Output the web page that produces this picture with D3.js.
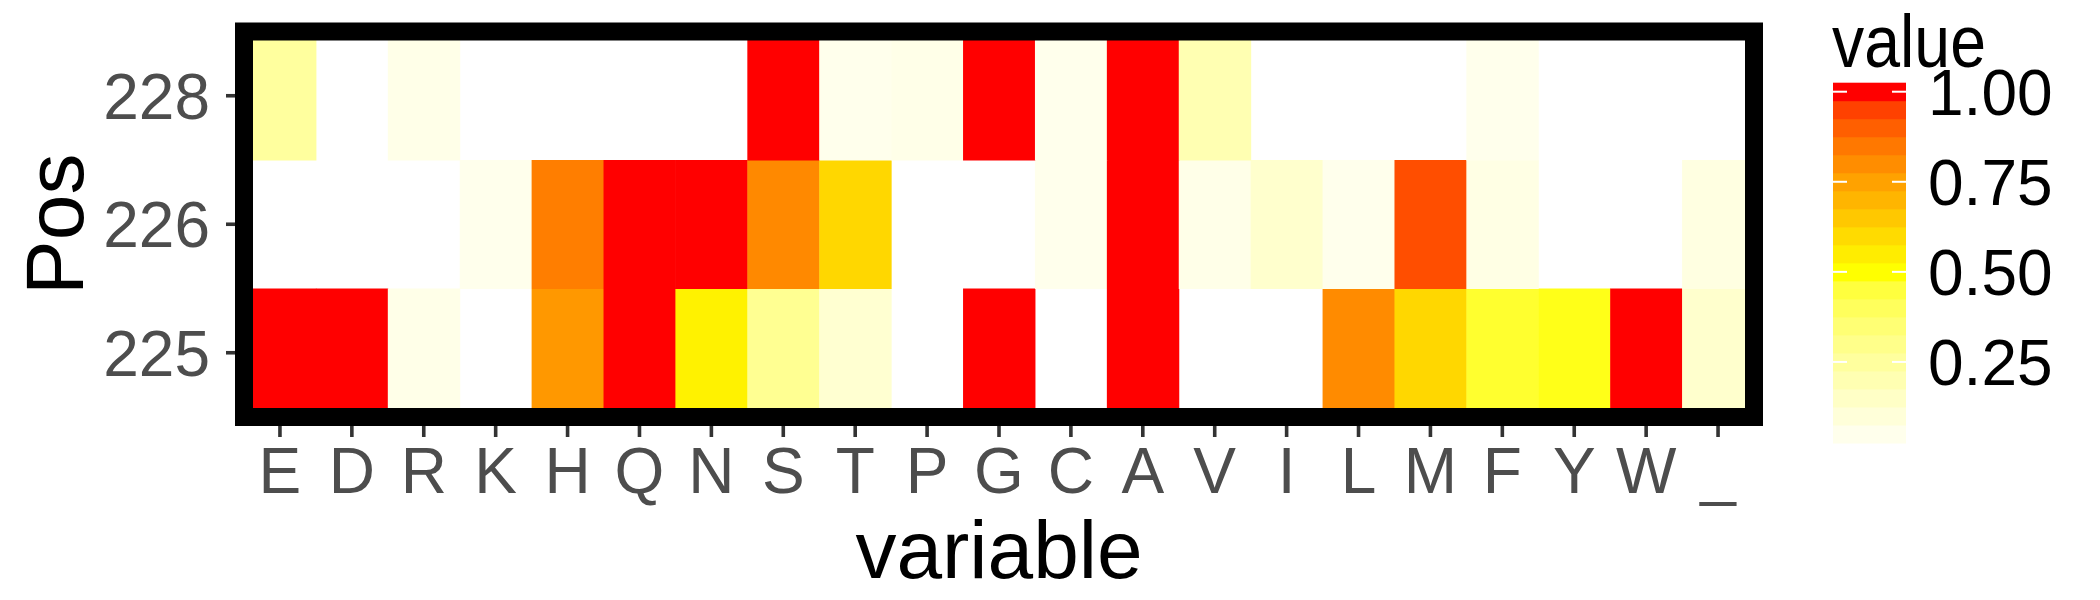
<!DOCTYPE html>
<html>
<head>
<meta charset="utf-8">
<script src="https://cdn.jsdelivr.net/npm/d3@7"></script>
<style>
  html, body { margin: 0; padding: 0; background: #ffffff; }
  svg { display: block; font-family: "Liberation Sans", Arial, Helvetica, sans-serif; }
</style>
</head>
<body>
<svg id="chart" width="2100" height="600"></svg>
<script>
// ---- data ----
const variables = ["E","D","R","K","H","Q","N","S","T","P","G","C","A","V","I","L","M","F","Y","W","_"];
const positions = ["225","226","228"];
const pos228 = [0.25, null, 0.06, null, null, null, null, 1.00, 0.05, 0.06, 1.00, 0.05, 1.00, 0.20, null, null, null, 0.05, null, null, null];
const pos226 = [null, null, null, 0.05, 0.835, 1.00, 1.00, 0.81, 0.61, null, null, 0.05, 1.00, 0.06, 0.13, 0.05, 0.93, 0.07, null, null, 0.08];
const pos225 = [1.00, 1.00, 0.06, null, 0.775, 1.00, 0.535, 0.28, 0.12, null, 1.00, null, 1.00, null, null, 0.805, 0.61, 0.47, 0.49, 1.00, 0.13];
const legendTicks = [0.25, 0.50, 0.75, 1.00];
const legendTickLabels = ["0.25", "0.50", "0.75", "1.00"];

const rows = { "225": pos225, "226": pos226, "228": pos228 };
const cells = [];
positions.forEach(p => rows[p].forEach((v, i) => { if (v !== null) cells.push({ variable: variables[i], pos: p, value: v }); }));

// ---- layout ----
const svg = d3.select("#chart");
const panel = { left: 244, right: 1754, top: 31.5, bottom: 417 };

const x = d3.scaleBand().domain(variables).range([panel.left, panel.right]).padding(0);
const y = d3.scaleBand().domain(positions).range([panel.bottom, panel.top]).padding(0);

const color = d3.scaleLinear().domain([0, 0.5, 1]).range(["#ffffff", "#ffff00", "#ff0000"]).interpolate(d3.interpolateLab);

// tiles
svg.append("g").selectAll("rect").data(cells).join("rect")
  .attr("x", d => x(d.variable))
  .attr("y", d => y(d.pos))
  .attr("width", x.bandwidth() + 0.5)
  .attr("height", y.bandwidth() + 0.5)
  .attr("fill", d => color(d.value));

// axis ticks
const tickColor = "#333333";
svg.append("g").selectAll("line").data(positions).join("line")
  .attr("x1", panel.left - 18).attr("x2", panel.left)
  .attr("y1", d => y(d) + y.bandwidth() / 2).attr("y2", d => y(d) + y.bandwidth() / 2)
  .attr("stroke", tickColor).attr("stroke-width", 3.6);
svg.append("g").selectAll("line").data(variables).join("line")
  .attr("y1", panel.bottom).attr("y2", panel.bottom + 20)
  .attr("x1", d => x(d) + x.bandwidth() / 2).attr("x2", d => x(d) + x.bandwidth() / 2)
  .attr("stroke", tickColor).attr("stroke-width", 3.6);

// panel border
svg.append("rect")
  .attr("x", panel.left).attr("y", panel.top)
  .attr("width", panel.right - panel.left).attr("height", panel.bottom - panel.top)
  .attr("fill", "none").attr("stroke", "#000000").attr("stroke-width", 18);

// tick labels
svg.append("g").selectAll("text").data(positions).join("text")
  .attr("x", 210)
  .attr("y", d => y(d) + y.bandwidth() / 2 + 23)
  .attr("text-anchor", "end")
  .attr("font-size", 64)
  .attr("fill", "#4d4d4d")
  .text(d => d);
svg.append("g").selectAll("text").data(variables).join("text")
  .attr("x", d => x(d) + x.bandwidth() / 2)
  .attr("y", 493)
  .attr("text-anchor", "middle")
  .attr("font-size", 64)
  .attr("fill", "#4d4d4d")
  .text(d => d);

// axis titles
svg.append("text")
  .attr("x", (panel.left + panel.right) / 2).attr("y", 578)
  .attr("text-anchor", "middle").attr("font-size", 82).attr("fill", "#000")
  .text("variable");
svg.append("text")
  .attr("transform", `translate(83,${(panel.top + panel.bottom) / 2}) rotate(-90)`)
  .attr("text-anchor", "middle").attr("font-size", 82).attr("fill", "#000")
  .text("Pos");

// legend
const allVals = cells.map(d => d.value);
const vmin = d3.min(allVals), vmax = d3.max(allVals);
const nbin = 20;
const bar = { left: 1833, right: 1906, top: 82.7, bottom: 443 };
const binH = (bar.bottom - bar.top) / nbin;
const ly = d3.scaleLinear().domain([vmin, vmax]).range([bar.bottom - binH / 2, bar.top + binH / 2]);
const binVals = d3.range(nbin).map(i => vmin + i * (vmax - vmin) / (nbin - 1));

svg.append("text")
  .attr("x", 1832).attr("y", 67)
  .attr("font-size", 74).attr("fill", "#000")
  .attr("textLength", 154).attr("lengthAdjust", "spacingAndGlyphs")
  .text("value");

svg.append("g").selectAll("rect").data(binVals).join("rect")
  .attr("x", bar.left).attr("width", bar.right - bar.left)
  .attr("y", d => ly(d) - binH / 2).attr("height", binH + 0.5)
  .attr("fill", d => color(d));

const lt = svg.append("g");
lt.selectAll("line.l").data(legendTicks).join("line").attr("class", "l")
  .attr("x1", bar.left).attr("x2", bar.left + 14)
  .attr("y1", d => ly(d)).attr("y2", d => ly(d))
  .attr("stroke", "#ffffff").attr("stroke-width", 2);
lt.selectAll("line.r").data(legendTicks).join("line").attr("class", "r")
  .attr("x1", bar.right - 14).attr("x2", bar.right)
  .attr("y1", d => ly(d)).attr("y2", d => ly(d))
  .attr("stroke", "#ffffff").attr("stroke-width", 2);
lt.selectAll("text").data(legendTicks).join("text")
  .attr("x", 1928)
  .attr("y", d => ly(d) + 23)
  .attr("font-size", 64).attr("fill", "#000")
  .text((d, i) => legendTickLabels[i]);
</script>
</body>
</html>
